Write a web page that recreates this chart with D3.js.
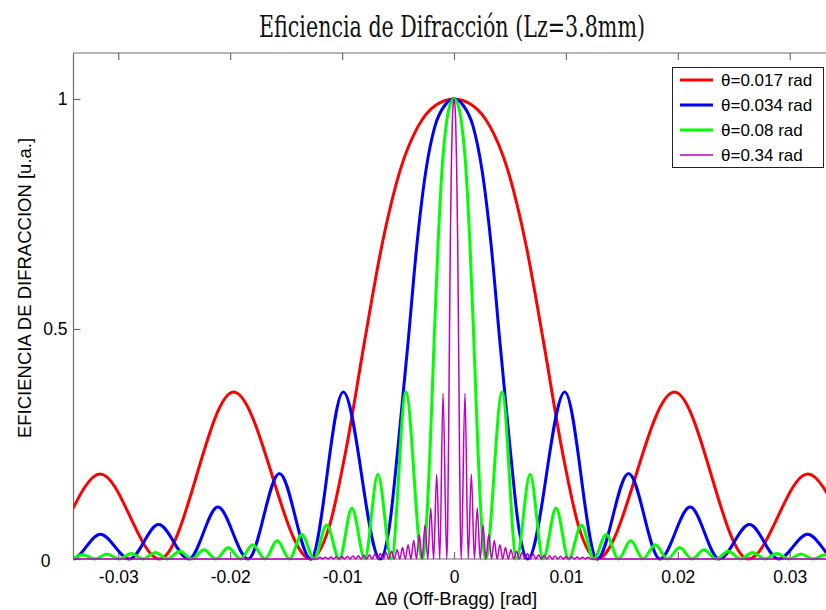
<!DOCTYPE html>
<html>
<head>
<meta charset="utf-8">
<script src="https://cdn.jsdelivr.net/npm/d3@7/dist/d3.min.js"></script>
<style>
  body { margin: 0; background: #fff; }
  text { font-family: "Liberation Sans", Arial, sans-serif; }
</style>
</head>
<body>
<svg id="chart" width="826" height="610"></svg>
<script>
// Axis ticks
const xTicks = [-0.03, -0.02, -0.01, 0, 0.01, 0.02, 0.03];
const xTickLabels = ["-0.03", "-0.02", "-0.01", "0", "0.01", "0.02", "0.03"];
const yTicks = [0, 0.5, 1];
const yTickLabels = ["0", "0.5", "1"];

// Legend entries
const seriesNames = ["θ=0.017 rad", "θ=0.034 rad", "θ=0.08 rad", "θ=0.34 rad"];

// Diffraction efficiency vs. off-Bragg angle: [Δθ (rad), efficiency]
// (zeros and lobe maxima, plus a few points along each main lobe)
const effTheta017 = [
  [-0.0425, 0.111],
  [-0.0372, 0], [-0.0316, 0.185], [-0.0263, 0], [-0.0197, 0.363], [-0.0128, 0],
  [-0.0112, 0.066], [-0.0096, 0.244], [-0.008, 0.472], [-0.0064, 0.687],
  [-0.0048, 0.846], [-0.0032, 0.941], [-0.0016, 0.987], [0, 1],
  [0.0016, 0.987], [0.0032, 0.941], [0.0048, 0.846], [0.0064, 0.687],
  [0.008, 0.472], [0.0096, 0.244], [0.0112, 0.066], [0.0128, 0],
  [0.0197, 0.363], [0.0263, 0], [0.0316, 0.185], [0.0372, 0],
  [0.0425, 0.111]
];

const effTheta034 = [
  [-0.0392, 0], [-0.0367, 0.04], [-0.0341, 0], [-0.0316, 0.054], [-0.029, 0],
  [-0.0264, 0.075], [-0.0237, 0], [-0.0211, 0.113], [-0.0184, 0], [-0.0156, 0.186],
  [-0.0128, 0], [-0.0099, 0.363], [-0.0066, 0], [-0.0058, 0.066], [-0.005, 0.244],
  [-0.0041, 0.472], [-0.0033, 0.687], [-0.0025, 0.846], [-0.0017, 0.941],
  [-0.0008, 0.987], [0, 1],
  [0.0008, 0.987], [0.0017, 0.941], [0.0025, 0.846], [0.0033, 0.687],
  [0.0041, 0.472], [0.005, 0.244], [0.0058, 0.066], [0.0066, 0],
  [0.0099, 0.363], [0.0128, 0], [0.0156, 0.186], [0.0184, 0], [0.0211, 0.113],
  [0.0237, 0], [0.0264, 0.075], [0.029, 0], [0.0316, 0.054], [0.0341, 0],
  [0.0367, 0.04], [0.0392, 0]
];

const effTheta08 = [
  [-0.03641, 0], [-0.03533, 0.008], [-0.03425, 0], [-0.03317, 0.009], [-0.03209, 0],
  [-0.03101, 0.011], [-0.02993, 0], [-0.02885, 0.012], [-0.02776, 0], [-0.02668, 0.014],
  [-0.0256, 0], [-0.02451, 0.017], [-0.02343, 0], [-0.02234, 0.02], [-0.02126, 0],
  [-0.02017, 0.025], [-0.01908, 0], [-0.01799, 0.031], [-0.01689, 0], [-0.0158, 0.04],
  [-0.0147, 0], [-0.0136, 0.053], [-0.01249, 0], [-0.01138, 0.074], [-0.01025, 0],
  [-0.00912, 0.111], [-0.00797, 0], [-0.0068, 0.184], [-0.00559, 0], [-0.0043, 0.363],
  [-0.00284, 0], [-0.00249, 0.066], [-0.00213, 0.244], [-0.00178, 0.472],
  [-0.00142, 0.687], [-0.00107, 0.846], [-0.00071, 0.941], [-0.00036, 0.987], [0, 1],
  [0.00036, 0.987], [0.00071, 0.941], [0.00107, 0.846], [0.00142, 0.687],
  [0.00178, 0.472], [0.00213, 0.244], [0.00249, 0.066], [0.00284, 0],
  [0.0043, 0.363], [0.00559, 0], [0.0068, 0.184], [0.00797, 0], [0.00912, 0.111],
  [0.01025, 0], [0.01138, 0.074], [0.01249, 0], [0.0136, 0.053], [0.0147, 0],
  [0.0158, 0.04], [0.01689, 0], [0.01799, 0.031], [0.01908, 0], [0.02017, 0.025],
  [0.02126, 0], [0.02234, 0.02], [0.02343, 0], [0.02451, 0.017], [0.0256, 0],
  [0.02668, 0.014], [0.02776, 0], [0.02885, 0.012], [0.02993, 0], [0.03101, 0.011],
  [0.03209, 0], [0.03317, 0.009], [0.03425, 0], [0.03533, 0.008], [0.03641, 0]
];

const effTheta34 = [
  [-0.04, 0],
  [-0.01223, 0], [-0.01198, 0.0037], [-0.01174, 0], [-0.01149, 0.004], [-0.01125, 0],
  [-0.011, 0.0044], [-0.01075, 0], [-0.01051, 0.005], [-0.01026, 0], [-0.01002, 0.0054],
  [-0.00977, 0], [-0.00953, 0.006], [-0.00928, 0], [-0.00904, 0.0066], [-0.00879, 0],
  [-0.00854, 0.007], [-0.0083, 0], [-0.00805, 0.008], [-0.00781, 0], [-0.00756, 0.009],
  [-0.00731, 0], [-0.00707, 0.011], [-0.00682, 0], [-0.00657, 0.012], [-0.00633, 0],
  [-0.00608, 0.014], [-0.00583, 0], [-0.00559, 0.017], [-0.00534, 0], [-0.00509, 0.02],
  [-0.00484, 0], [-0.0046, 0.025], [-0.00435, 0], [-0.0041, 0.031], [-0.00385, 0],
  [-0.0036, 0.04], [-0.00335, 0], [-0.0031, 0.053], [-0.00285, 0], [-0.00259, 0.074],
  [-0.00234, 0], [-0.00208, 0.111], [-0.00182, 0], [-0.00155, 0.184], [-0.00127, 0],
  [-0.00098, 0.36], [-0.00065, 0], [-0.00057, 0.066], [-0.00049, 0.244],
  [-0.00041, 0.472], [-0.00033, 0.687], [-0.00024, 0.846], [-0.00016, 0.941],
  [-0.00008, 0.987], [0, 1],
  [0.00008, 0.987], [0.00016, 0.941], [0.00024, 0.846], [0.00033, 0.687],
  [0.00041, 0.472], [0.00049, 0.244], [0.00057, 0.066], [0.00065, 0],
  [0.00098, 0.36], [0.00127, 0], [0.00155, 0.184], [0.00182, 0], [0.00208, 0.111],
  [0.00234, 0], [0.00259, 0.074], [0.00285, 0], [0.0031, 0.053], [0.00335, 0],
  [0.0036, 0.04], [0.00385, 0], [0.0041, 0.031], [0.00435, 0], [0.0046, 0.025],
  [0.00484, 0], [0.00509, 0.02], [0.00534, 0], [0.00559, 0.017], [0.00583, 0],
  [0.00608, 0.014], [0.00633, 0], [0.00657, 0.012], [0.00682, 0], [0.00707, 0.011],
  [0.00731, 0], [0.00756, 0.009], [0.00781, 0], [0.00805, 0.008], [0.0083, 0],
  [0.00854, 0.007], [0.00879, 0], [0.00904, 0.0066], [0.00928, 0], [0.00953, 0.006],
  [0.00977, 0], [0.01002, 0.0054], [0.01026, 0], [0.01051, 0.005], [0.01075, 0],
  [0.011, 0.0044], [0.01125, 0], [0.01149, 0.004], [0.01174, 0], [0.01198, 0.0037],
  [0.01223, 0],
  [0.04, 0]
];

const seriesData = [effTheta017, effTheta034, effTheta08, effTheta34];
const seriesColors = ["#ff0000", "#0000ff", "#00ff00", "#bf00bf"];
const seriesWidths = [3, 3, 3, 1.5];

// Layout
const plotLeft = 73.5, plotRight = 834.5, plotTop = 53, plotBottom = 559;
const axisColor = "#6e6e6e";
const tickLen = 7;

const svg = d3.select("#chart");

const x = d3.scaleLinear().domain([-0.034, 0.034]).range([plotLeft, plotRight]);
const y = d3.scaleLinear().domain([0, 1.1]).range([plotBottom, plotTop]);

// Title
svg.append("text")
  .attr("x", 452).attr("y", 37)
  .attr("text-anchor", "middle")
  .attr("textLength", 386)
  .attr("lengthAdjust", "spacingAndGlyphs")
  .style("font-family", "'DejaVu Serif Condensed', 'DejaVu Serif', serif")
  .style("font-stretch", "condensed")
  .style("font-size", "29px")
  .style("fill", "#111")
  .text("Eficiencia de Difracción (Lz=3.8mm)");

// Axes box (left, top, bottom)
const box = svg.append("g").attr("stroke", axisColor).attr("stroke-width", 1.2).attr("fill", "none");
box.append("line").attr("x1", plotLeft).attr("x2", plotLeft).attr("y1", plotTop).attr("y2", plotBottom);
box.append("line").attr("x1", plotLeft).attr("x2", 826).attr("y1", plotTop).attr("y2", plotTop);
box.append("line").attr("x1", plotLeft).attr("x2", 826).attr("y1", plotBottom).attr("y2", plotBottom);

// Bottom axis (ticks inward) and mirrored top ticks
const xAxisBottom = d3.axisBottom(x).tickValues(xTicks).tickSize(-tickLen).tickPadding(12)
  .tickFormat((d, i) => xTickLabels[i]);
const gxb = svg.append("g").attr("transform", `translate(0,${plotBottom})`).call(xAxisBottom);
gxb.select(".domain").remove();
gxb.selectAll(".tick line").attr("stroke", axisColor).attr("stroke-width", 1.2);
gxb.selectAll(".tick text")
  .style("font-family", "'Liberation Sans', Arial, sans-serif")
  .style("font-size", "17.5px").attr("fill", "#000");

const xAxisTop = d3.axisTop(x).tickValues(xTicks).tickSize(-tickLen).tickFormat("");
const gxt = svg.append("g").attr("transform", `translate(0,${plotTop})`).call(xAxisTop);
gxt.select(".domain").remove();
gxt.selectAll(".tick line").attr("stroke", axisColor).attr("stroke-width", 1.2);

// Left axis (ticks inward)
const yAxis = d3.axisLeft(y).tickValues(yTicks).tickSize(-tickLen).tickPadding(6)
  .tickFormat((d, i) => yTickLabels[i]);
const gy = svg.append("g").attr("transform", `translate(${plotLeft},0)`).call(yAxis);
gy.select(".domain").remove();
gy.selectAll(".tick line").attr("stroke", axisColor).attr("stroke-width", 1.2);
gy.selectAll(".tick text")
  .style("font-family", "'Liberation Sans', Arial, sans-serif")
  .style("font-size", "17.5px").attr("fill", "#000");
// the zero label sits further left
gy.selectAll(".tick text").filter(d => d === 0).attr("x", -23).attr("dy", "0.45em");

// Axis labels
svg.append("text")
  .attr("x", 456).attr("y", 605)
  .attr("text-anchor", "middle")
  .style("font-size", "18.5px")
  .text("Δθ (Off-Bragg) [rad]");

svg.append("text")
  .attr("transform", "translate(31,288) rotate(-90)")
  .attr("text-anchor", "middle")
  .style("font-size", "18.5px")
  .text("EFICIENCIA DE DIFRACCION [u.a.]");

// Curves
svg.append("clipPath").attr("id", "plotClip")
  .append("rect").attr("x", plotLeft).attr("y", plotTop - 10)
  .attr("width", 826 - plotLeft).attr("height", plotBottom - plotTop + 14);

const line = d3.line()
  .x(d => x(d[0]))
  .y(d => y(d[1]))
  .curve(d3.curveMonotoneX);

const curves = svg.append("g").attr("clip-path", "url(#plotClip)");
seriesData.forEach((data, i) => {
  curves.append("path")
    .datum(data)
    .attr("d", line)
    .attr("fill", "none")
    .attr("stroke", seriesColors[i])
    .attr("stroke-width", seriesWidths[i])
    .attr("stroke-linejoin", "round");
});

// Legend
const legend = svg.append("g");
legend.append("rect")
  .attr("x", 672.5).attr("y", 67.5).attr("width", 151).attr("height", 100)
  .attr("fill", "#fff").attr("stroke", "#222").attr("stroke-width", 1);
seriesNames.forEach((name, i) => {
  const cy = 80 + i * 25;
  legend.append("line")
    .attr("x1", 680).attr("x2", 713).attr("y1", cy).attr("y2", cy)
    .attr("stroke", seriesColors[i]).attr("stroke-width", seriesWidths[i]);
  legend.append("text")
    .attr("x", 721).attr("y", cy).attr("dy", "0.36em")
    .style("font-size", "17px")
    .text(name);
});
</script>
</body>
</html>
